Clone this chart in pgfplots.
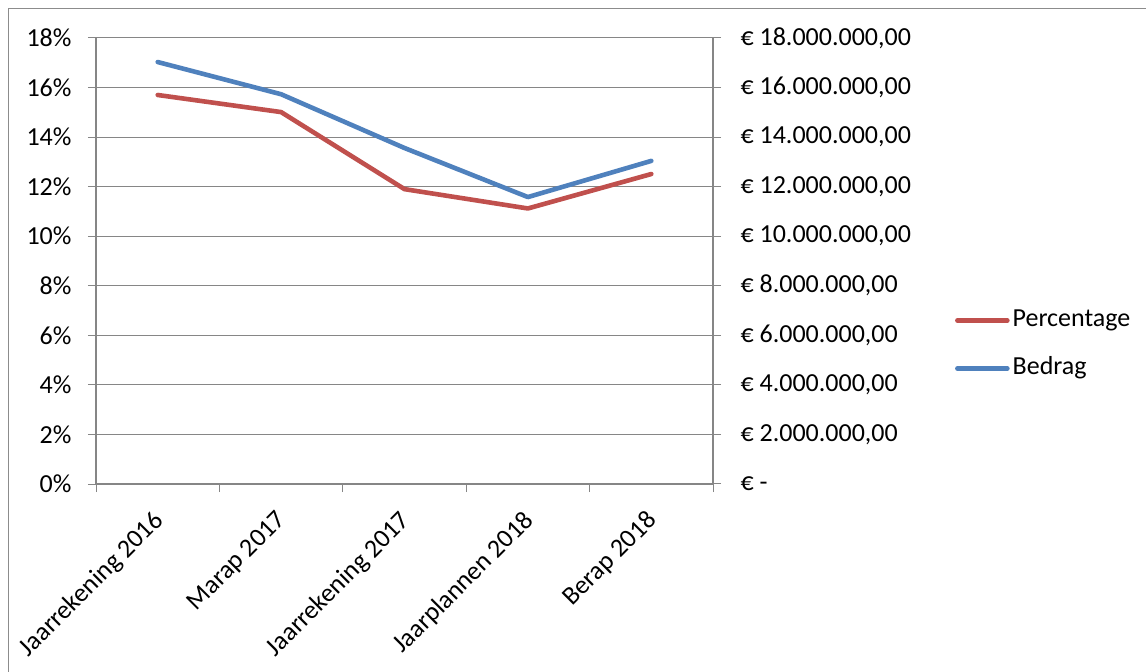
\documentclass[border=0pt]{standalone}
\usepackage{fontspec}
\setmainfont{Carlito}
\usepackage{pgfplots}
\pgfplotsset{compat=1.18}
\definecolor{gridgray}{RGB}{134,134,134}
\definecolor{framegray}{RGB}{140,140,140}
\definecolor{xlred}{RGB}{192,80,77}
\definecolor{xlblue}{RGB}{79,129,189}
\newcommand\lbl{\fontsize{26bp}{31bp}\selectfont}
\begin{document}
\begin{tikzpicture}
\useasboundingbox (0,0) rectangle (1146bp,672bp);
\fill[white] (0,0) rectangle (1146bp,672bp);
\draw[framegray, line width=1.5bp] (8.5bp,-10bp) -- (8.5bp,663.5bp) -- (1160bp,663.5bp);
\pgfplotsset{
 common/.style={
  scale only axis, width=617bp, height=446bp,
  at={(96bp,188bp)}, anchor=south west,
  xmin=-0.5, xmax=4.5,
  tick align=outside,
  major tick length=8bp,
  tick style={gridgray, line width=1bp},
  axis line style={gridgray, line width=1.3bp},
  tick label style={font=\lbl, black},
 }
}
\begin{axis}[common,
  ymin=0, ymax=18,
  axis x line*=bottom, axis y line*=left,
  ytick={0,2,...,18},
  yticklabels={0\%,2\%,4\%,6\%,8\%,10\%,12\%,14\%,16\%,18\%},
  yticklabel style={xshift=-13bp},
  ymajorgrids, grid style={gridgray, line width=1bp},
  xtick={-0.5,0.5,1.5,2.5,3.5,4.5},
  xticklabels={,,,,,},
  extra x ticks={0,1,2,3,4},
  extra x tick labels={Jaarrekening 2016, Marap 2017, Jaarrekening 2017, Jaarplannen 2018, Berap 2018},
  extra x tick style={tick style={draw=none}, tick label style={xshift=-6bp, yshift=-12bp, rotate=45, anchor=north east}},
]
\addplot[xlred, line width=4.6bp, line cap=round, line join=round] coordinates {
 (0,15.70) (1,15.01) (2,11.90) (3,11.12) (4,12.51)};
\end{axis}
\begin{axis}[common,
  ymin=0, ymax=18000000,
  axis x line=none, axis y line*=right,
  scaled y ticks=false,
  ytick={0,2000000,4000000,6000000,8000000,10000000,12000000,14000000,16000000,18000000},
  yticklabels={{€ -},{€ 2.000.000,00},{€ 4.000.000,00},{€ 6.000.000,00},{€ 8.000.000,00},{€ 10.000.000,00},{€ 12.000.000,00},{€ 14.000.000,00},{€ 16.000.000,00},{€ 18.000.000,00}},
  yticklabel style={anchor=west, xshift=16bp},
  legend style={at={(1.392,0.3128)}, anchor=west, draw=none, fill=none, inner sep=0pt, font=\lbl, row sep=24bp,
    nodes={inner sep=0pt, text height=18bp, text depth=6bp},
    /tikz/every odd column/.style={column sep=3bp}},
  legend cell align=left,
  legend image code/.code={\draw[#1] (0bp,0bp) -- (50bp,0bp);},
]
\addlegendimage{xlred, line width=4.6bp, line cap=round}
\addlegendentry{Percentage}
\addplot[xlblue, line width=4.6bp, line cap=round, line join=round] coordinates {
 (0,17030000) (1,15730000) (2,13560000) (3,11580000) (4,13040000)};
\addlegendentry{Bedrag}
\end{axis}
\end{tikzpicture}
\end{document}
